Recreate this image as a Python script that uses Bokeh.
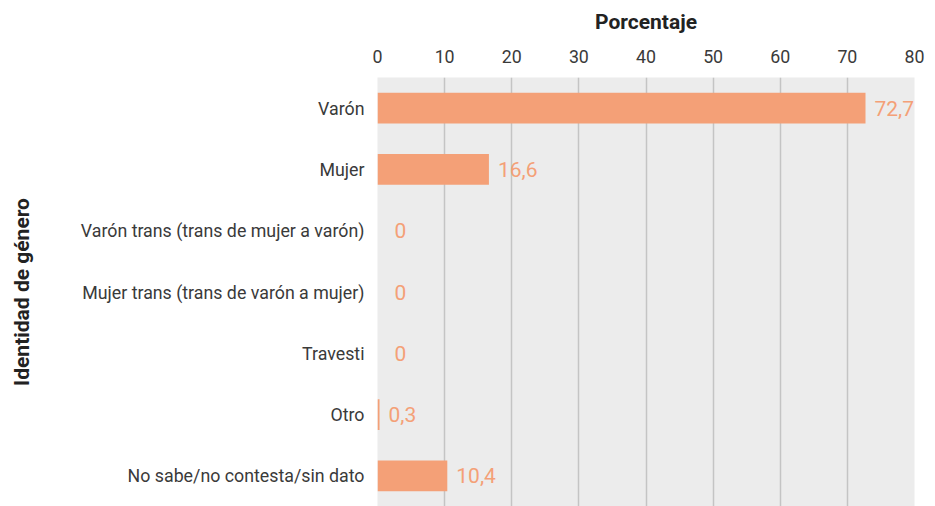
from bokeh.plotting import figure
from bokeh.models import ColumnDataSource, Range1d, FixedTicker, LabelSet
from bokeh.core.properties import value
from bokeh.embed import file_html
from bokeh.resources import INLINE

categories = [
    "Varón",
    "Mujer",
    "Varón trans (trans de mujer a varón)",
    "Mujer trans (trans de varón a mujer)",
    "Travesti",
    "Otro",
    "No sabe/no contesta/sin dato",
]
values = [72.7, 16.6, 0, 0, 0, 0.3, 10.4]
x_ticks = [0, 10, 20, 30, 40, 50, 60, 70, 80]

labels = [("%g" % v).replace(".", ",") for v in values]
offsets = [9 if v > 0 else 17 for v in values]

src = ColumnDataSource(dict(cat=categories, val=values, lab=labels, off=offsets))

BAR = "#f4a077"
p = figure(
    width=928, height=506,
    y_range=list(reversed(categories)),
    x_range=Range1d(0, 80),
    x_axis_location="above",
    output_backend="svg", toolbar_location=None,
    min_border_top=77, min_border_right=14, min_border_bottom=0,
    min_border_left=377,
)
p.background_fill_color = "#ececec"
p.border_fill_color = "white"
p.outline_line_color = None

p.hbar(y="cat", right="val", left=0, height=0.5, source=src,
       fill_color=BAR, line_color=None)

lbl = LabelSet(x="val", y="cat", text="lab", x_offset="off", source=src,
               text_color=BAR, text_font_size="21px",
               text_font=value("Roboto"),
               text_baseline="middle",
               text_align="left")
p.add_layout(lbl)

p.xaxis.ticker = FixedTicker(ticks=x_ticks)
p.xaxis.axis_label = "Porcentaje"
p.yaxis.axis_label = "Identidad de género"
for ax in (p.xaxis, p.yaxis):
    ax.axis_line_color = None
    ax.major_tick_line_color = None
    ax.minor_tick_line_color = None
    ax.major_label_text_font = "Roboto"
    ax.major_label_text_font_size = "17.8px"
    ax.major_label_text_color = "#3a3a3a"
    ax.axis_label_text_font = "Roboto"
    ax.axis_label_text_font_size = "21px"
    ax.axis_label_text_font_style = "bold"
    ax.axis_label_text_color = "#222222"
p.xaxis.major_label_standoff = 9
p.xaxis.axis_label_standoff = 13
p.yaxis.major_label_standoff = 7
p.yaxis.axis_label_standoff = 44

p.xgrid.grid_line_color = "#c4c4c4"
p.xgrid.grid_line_width = 1.5
p.ygrid.grid_line_color = None

open("out.html", "w").write(file_html(p, INLINE))
